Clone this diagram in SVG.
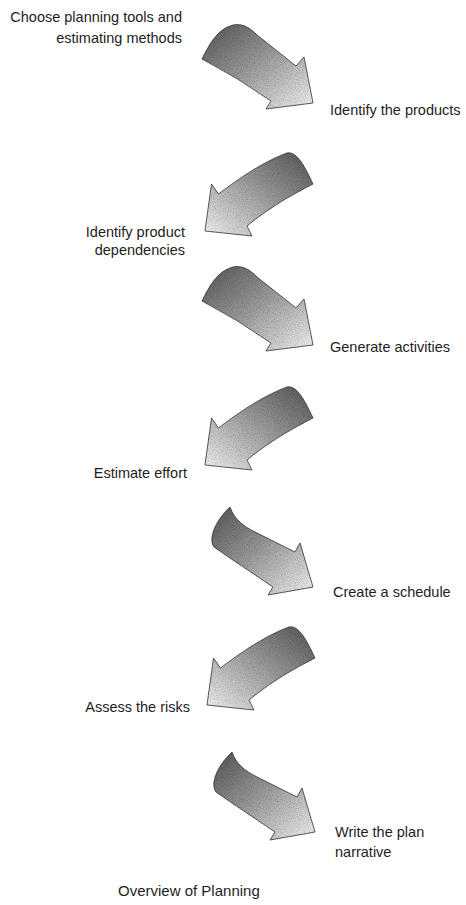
<svg xmlns="http://www.w3.org/2000/svg" xmlns:xlink="http://www.w3.org/1999/xlink" width="466" height="905" viewBox="0 0 466 905">
  <style>
    .lbl { font-family: "Liberation Sans", Arial, sans-serif; font-size: 14.5px; fill: #1e1e1e; }
    .end { text-anchor: end; }
    .title { font-family: "Liberation Sans", Arial, sans-serif; font-size: 15px; fill: #1e1e1e; }
    .arR { fill: url(#gradR); stroke: #3a3a3a; stroke-width: 0.8; stroke-linejoin: round; filter: url(#grain); }
    .arL { fill: url(#gradL); stroke: #3a3a3a; stroke-width: 0.8; stroke-linejoin: round; filter: url(#grain); }
  </style>
  <defs>
    <!-- dark tail fading to a pale tip -->
    <linearGradient id="gradR" x1="0" y1="0" x2="1" y2="1">
      <stop offset="0" stop-color="#555555"/>
      <stop offset="0.45" stop-color="#989898"/>
      <stop offset="1" stop-color="#f4f4f4"/>
    </linearGradient>
    <linearGradient id="gradL" x1="1" y1="0" x2="0" y2="1">
      <stop offset="0" stop-color="#555555"/>
      <stop offset="0.45" stop-color="#989898"/>
      <stop offset="1" stop-color="#f4f4f4"/>
    </linearGradient>
    <!-- stippled print texture -->
    <filter id="grain" x="-5%" y="-5%" width="110%" height="110%">
      <feTurbulence type="fractalNoise" baseFrequency="0.85" numOctaves="2" seed="7" result="noise"/>
      <feColorMatrix in="noise" type="matrix" values="0 0 0 0 0  0 0 0 0 0  0 0 0 0 0  0.7 0 0 0 -0.25" result="dots"/>
      <feComposite in="dots" in2="SourceAlpha" operator="in" result="grainIn"/>
      <feMerge>
        <feMergeNode in="SourceGraphic"/>
        <feMergeNode in="grainIn"/>
      </feMerge>
    </filter>
    <!-- shapes drawn with the arrow tip at the origin -->
    <path id="rightHump" d="M 0,0 L -47,6 L -42,-2 Q -76,-26 -111,-44 C -104,-58 -96,-74 -80,-78 C -69,-80 -62,-74 -56,-68 L -17,-37 L -9,-46 Z"/>
    <path id="rightPoint" d="M 0,0 L -45,8 L -40,0 C -62,-15 -82,-28 -99,-40 C -105,-48 -98,-66 -83,-80 C -79,-68 -70,-61 -58,-55 L -18,-35 L -13,-44 Z"/>
    <path id="leftCurl" d="M 0,0 L 6.5,-47 L 13.5,-37 C 28,-48 55,-68 82,-78 C 92,-80 100,-64 108,-47 C 95,-40 70,-28 42,-5 L 47,5 Z"/>
  </defs>

  <g id="connectors">
    <use id="arrow1" class="arR" href="#rightHump" x="313" y="103"/>
    <use id="arrow2" class="arL" href="#leftCurl" x="205" y="231"/>
    <use id="arrow3" class="arR" href="#rightHump" x="313" y="345"/>
    <use id="arrow4" class="arL" href="#leftCurl" x="205" y="465"/>
    <use id="arrow5" class="arR" href="#rightPoint" x="313" y="587"/>
    <use id="arrow6" class="arL" href="#leftCurl" x="207" y="705"/>
    <use id="arrow7" class="arR" href="#rightPoint" x="315" y="832"/>
  </g>

  <g id="step-choose">
    <text class="lbl end" x="182" y="21.5">Choose planning tools and</text>
    <text class="lbl end" x="182" y="43">estimating methods</text>
  </g>
  <g id="step-products">
    <text class="lbl" x="330" y="115">Identify the products</text>
  </g>
  <g id="step-dependencies">
    <text class="lbl end" x="185" y="236.5">Identify product</text>
    <text class="lbl end" x="185" y="255">dependencies</text>
  </g>
  <g id="step-activities">
    <text class="lbl" x="330" y="352">Generate activities</text>
  </g>
  <g id="step-effort">
    <text class="lbl end" x="187" y="478">Estimate effort</text>
  </g>
  <g id="step-schedule">
    <text class="lbl" x="333" y="597">Create a schedule</text>
  </g>
  <g id="step-risks">
    <text class="lbl end" x="190" y="712">Assess the risks</text>
  </g>
  <g id="step-narrative">
    <text class="lbl" x="335" y="837">Write the plan</text>
    <text class="lbl" x="335" y="857">narrative</text>
  </g>
  <g id="caption">
    <text class="title" x="118" y="896">Overview of Planning</text>
  </g>
</svg>
